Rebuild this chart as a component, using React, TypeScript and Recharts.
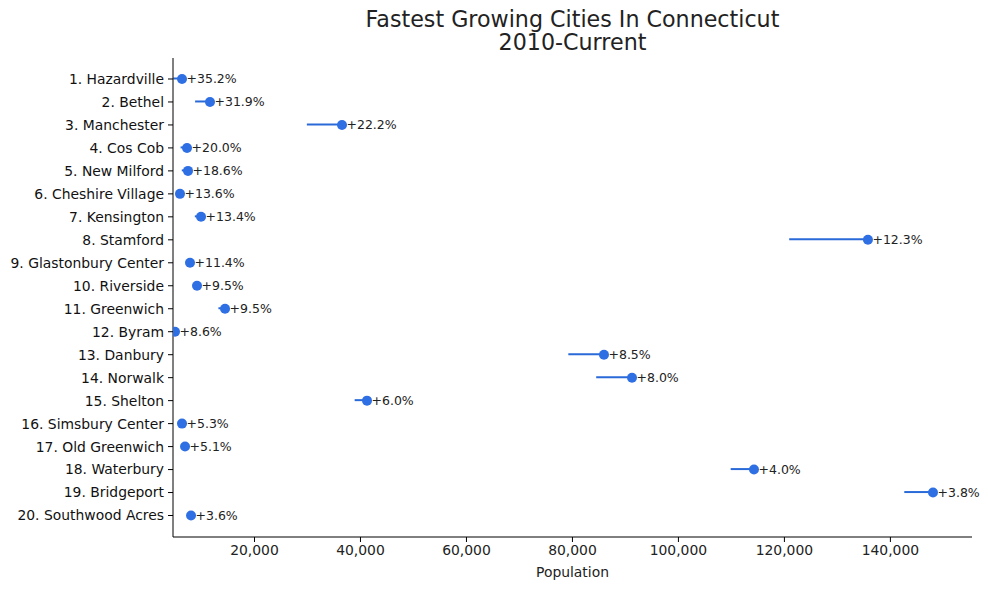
import React from 'react';
import { ComposedChart, Bar, Line, XAxis, YAxis, LabelList, Label } from 'recharts';

const cities = [
  '1. Hazardville', '2. Bethel', '3. Manchester', '4. Cos Cob', '5. New Milford',
  '6. Cheshire Village', '7. Kensington', '8. Stamford', '9. Glastonbury Center', '10. Riverside',
  '11. Greenwich', '12. Byram', '13. Danbury', '14. Norwalk', '15. Shelton',
  '16. Simsbury Center', '17. Old Greenwich', '18. Waterbury', '19. Bridgeport', '20. Southwood Acres',
];
const pop2010 = [
  4680, 8790, 29880, 6050, 6280,
  5230, 8740, 120900, 7030, 8360,
  13190, 4600, 79220, 84480, 38900,
  6000, 6560, 109860, 142620, 7740,
];
const popCurrent = [
  6320, 11600, 36510, 7265, 7450,
  5940, 9910, 135760, 7830, 9150,
  14440, 5000, 85950, 91240, 41230,
  6320, 6890, 114260, 148040, 8020,
];
const growthLabels = [
  '+35.2%', '+31.9%', '+22.2%', '+20.0%', '+18.6%',
  '+13.6%', '+13.4%', '+12.3%', '+11.4%', '+9.5%',
  '+9.5%', '+8.6%', '+8.5%', '+8.0%', '+6.0%',
  '+5.3%', '+5.1%', '+4.0%', '+3.8%', '+3.6%',
];
const xTicks = [20000, 40000, 60000, 80000, 100000, 120000, 140000];

const data = cities.map((city, i) => ({
  city,
  range: [pop2010[i], popCurrent[i]],
  current: popCurrent[i],
  growth: growthLabels[i],
}));

const FONT = 'DejaVu Sans, sans-serif';
const LINE = '#2a6ad8';
const DOT = '#2f6fe4';

const fmt = (v: number) => v.toLocaleString('en-US');

export default function App() {
  return (
    <div style={{ position: 'absolute', left: 0, top: 0, width: 988, height: 590, background: '#fff' }}>
      <svg width={988} height={60} style={{ position: 'absolute', left: 0, top: 0 }}>
        <text x={572.5} y={26.5} textAnchor="middle" fontFamily={FONT} fontSize={22.2} fill="#222">
          Fastest Growing Cities In Connecticut
        </text>
        <text x={572.5} y={50} textAnchor="middle" fontFamily={FONT} fontSize={22.2} fill="#222">
          2010-Current
        </text>
      </svg>
      <div style={{ position: 'absolute', left: 0, top: 0 }}>
        <ComposedChart
          width={988}
          height={590}
          data={data}
          layout="vertical"
          margin={{ top: 58, right: 16, bottom: 0, left: 0 }}
        >
          <XAxis
            type="number"
            domain={[4620, 155400]}
            allowDataOverflow
            ticks={xTicks}
            tickFormatter={fmt}
            height={53}
            stroke="#000"
            tick={{ fill: '#222', fontSize: 13.9, fontFamily: FONT }}
            tickSize={5}
            tickMargin={3}
          >
            <Label value="Population" position="insideBottom" offset={13} fill="#222" fontSize={13.9} fontFamily={FONT} />
          </XAxis>
          <YAxis
            type="category"
            dataKey="city"
            width={173}
            padding={{ top: 9.5, bottom: 10 }}
            stroke="#000"
            tick={{ fill: '#111', fontSize: 13.9, fontFamily: FONT }}
            tickSize={5}
            tickMargin={4}
            interval={0}
          />
          <Bar dataKey="range" barSize={2} fill={LINE} isAnimationActive={false} />
          <Line
            dataKey="current"
            stroke="none"
            isAnimationActive={false}
            dot={{ r: 5, fill: DOT, stroke: DOT, strokeWidth: 0 }}
            activeDot={false}
          >
            <LabelList dataKey="growth" position="right" offset={4.5} fill="#222" fontSize={12.5} fontFamily={FONT} />
          </Line>
        </ComposedChart>
      </div>
    </div>
  );
}
